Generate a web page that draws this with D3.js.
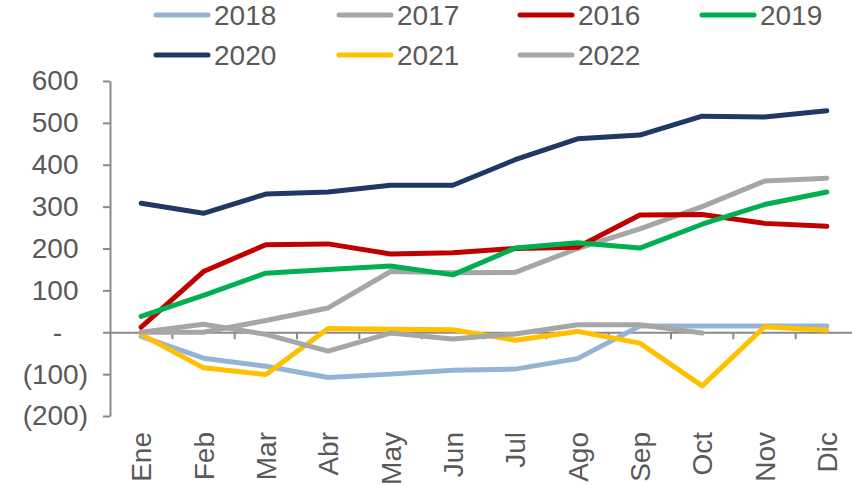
<!DOCTYPE html>
<html lang="es">
<head>
<meta charset="utf-8">
<title>Serie mensual 2016 - 2022</title>
<script src="https://d3js.org/d3.v7.min.js"></script>
<style>
    body {
        margin: 0;
        background: #ffffff;
    }
    text {
        font-family: "Liberation Sans", Arial, sans-serif;
        fill: #595959;
    }
    .axis path, .axis line {
        stroke: #898989;
        stroke-width: 2;
    }
    .line {
        fill: none;
        stroke-width: 5;
        stroke-linejoin: round;
        stroke-linecap: round;
    }
</style>
</head>
<body>
<svg width="852" height="485"></svg>
<script>
// months on the category axis
var months = ["Ene", "Feb", "Mar", "Abr", "May", "Jun", "Jul", "Ago", "Sep", "Oct", "Nov", "Dic"];
var yTicks = [-200, -100, 0, 100, 200, 300, 400, 500, 600];

// one array per year (2022 stops at Oct)
var s2018 = [-10, -62, -81, -108, -100, -91, -88, -63, 15, 15, 15, 15];
var s2017 = [0, 0, 28, 58, 145, 142, 143, 200, 247, 300, 361, 368];
var s2016 = [12, 145, 209, 211, 187, 190, 200, 203, 280, 281, 260, 253];
var s2019 = [38, 88, 141, 150, 158, 137, 201, 214, 201, 258, 305, 335];
var s2020 = [308, 284, 330, 335, 351, 351, 412, 462, 471, 516, 514, 529];
var s2021 = [-5, -85, -101, 9, 7, 6, -19, 2, -26, -128, 13, 5];
var s2022 = [0, 19, -5, -45, -2, -16, -4, 18, 18, -2];

var seriesNames = ["2018", "2017", "2016", "2019", "2020", "2021", "2022"];
var seriesValues = [s2018, s2017, s2016, s2019, s2020, s2021, s2022];
var seriesColors = ["#95b3d7", "#a6a6a6", "#c00000", "#00b050", "#203864", "#ffc000", "#a6a6a6"];

var svg = d3.select("svg");

var x = d3.scaleBand()
    .domain(months)
    .range([110, 858]);

var y = d3.scaleLinear()
    .domain([-200, 600])
    .range([416, 81]);

// y axis
var yAxis = svg.append("g")
    .attr("class", "axis")
    .attr("transform", "translate(110,0)")
    .call(d3.axisLeft(y)
        .tickValues(yTicks)
        .tickSizeInner(7)
        .tickSizeOuter(0)
        .tickPadding(15)
        .tickFormat(function(d) {
            if (d === 0) return "-";
            if (d < 0) return "(" + Math.abs(d) + ")";
            return d;
        }));
yAxis.selectAll(".tick text")
    .attr("font-size", 28)
    .attr("font-family", null)
    .attr("dx", function(d) { return d > 0 ? -9.5 : d === 0 ? -26 : 0; });

// x axis on the zero line, ticks between months, labels at the bottom
var zeroY = y(0);
var xAxis = svg.append("g")
    .attr("class", "axis")
    .attr("transform", "translate(0," + zeroY + ")")
    .call(d3.axisBottom(x).tickSizeInner(7).tickSizeOuter(0));
xAxis.selectAll(".tick line")
    .attr("x1", x.bandwidth() / 2)
    .attr("x2", x.bandwidth() / 2);
xAxis.selectAll(".tick text")
    .attr("font-size", 28)
    .attr("font-family", null)
    .attr("x", 0)
    .attr("y", 0)
    .attr("dy", "0.36em")
    .attr("text-anchor", "end")
    .attr("transform", "translate(0," + (432 - zeroY) + ") rotate(-90)");

// lines
var line = d3.line()
    .x(function(d, i) { return x(months[i]) + x.bandwidth() / 2; })
    .y(function(d) { return y(d); });

svg.selectAll(".line")
    .data(seriesValues)
    .enter().append("path")
    .attr("class", "line")
    .attr("stroke", function(d, i) { return seriesColors[i]; })
    .attr("stroke-width", function(d, i) { return i === 0 ? 4.5 : 5; })
    .attr("d", line);

// legend, two rows
var legendCols = [154, 337, 518, 700];
var legend = svg.selectAll(".legend")
    .data(seriesNames)
    .enter().append("g")
    .attr("class", "legend")
    .attr("transform", function(d, i) {
        return "translate(" + legendCols[i % 4] + "," + (i < 4 ? 15 : 55) + ")";
    });
legend.append("line")
    .attr("x1", 2)
    .attr("x2", 54)
    .attr("stroke", function(d, i) { return seriesColors[i]; })
    .attr("stroke-width", 5)
    .attr("stroke-linecap", "round");
legend.append("text")
    .attr("x", 60)
    .attr("dy", "0.36em")
    .attr("font-size", 28)
    .text(function(d) { return d; });
</script>
</body>
</html>
